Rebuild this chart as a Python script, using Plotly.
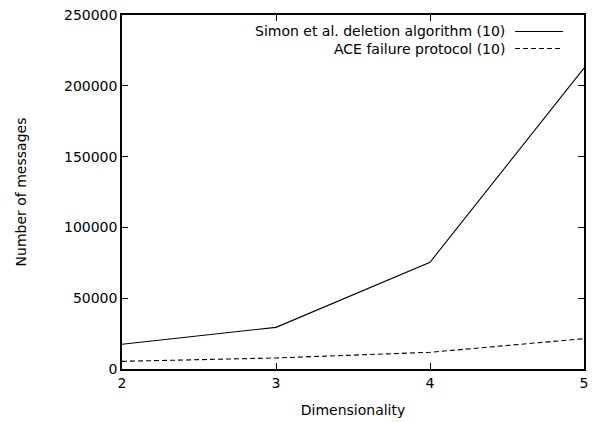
import plotly.graph_objects as go

dims = [2, 3, 4, 5]
simon = [17500, 29400, 75400, 212500]
ace = [5400, 7800, 11800, 21400]
names = ["Simon et al. deletion algorithm (10)", "ACE failure protocol (10)"]
yticks = [0, 50000, 100000, 150000, 200000, 250000]

W, H = 597, 422
ml, mr, mt, mb = 122, 13, 15, 53
pw, ph = W - ml - mr, H - mt - mb

fig = go.Figure()
fig.add_trace(go.Scatter(x=dims, y=simon, mode="lines", name=names[0],
                         line=dict(color="black", width=1.1)))
fig.add_trace(go.Scatter(x=dims, y=ace, mode="lines", name=names[1],
                         line=dict(color="black", width=1.1, dash="5px,3px")))

font = dict(family="DejaVu Sans, Liberation Sans, sans-serif", size=14, color="black")

# legend (gnuplot style: text right-aligned, sample on right)
rows = [(names[0], "solid", 31.5), (names[1], "5px,3px", 48.5)]
for txt, dash, ypx in rows:
    yp = 1 - (ypx - mt) / ph
    fig.add_annotation(xref="paper", yref="paper", x=(506 - ml) / pw, y=yp,
                       text=txt, showarrow=False, xanchor="right", yanchor="middle",
                       font=font, borderpad=0)
    fig.add_shape(type="line", xref="paper", yref="paper",
                  x0=(515 - ml) / pw, x1=(563 - ml) / pw, y0=yp, y1=yp,
                  line=dict(color="black", width=1.1, dash=dash))

fig.update_layout(
    width=W, height=H,
    margin=dict(l=ml, r=mr, t=mt, b=mb, autoexpand=False),
    plot_bgcolor="white", paper_bgcolor="white",
    showlegend=False, font=font,
    xaxis=dict(range=[2, 5], tickvals=dims, ticks="inside", ticklen=6,
               tickcolor="black", showline=True, linecolor="black", linewidth=1.5,
               mirror="ticks", showgrid=False, zeroline=False, automargin=False,
               title=dict(text="Dimensionality", font=font, standoff=16),
               tickfont=font),
    yaxis=dict(range=[0, 250000], tickvals=yticks, ticks="inside", ticklen=6,
               tickcolor="black", showline=True, linecolor="black", linewidth=1.5,
               mirror="ticks", showgrid=False, zeroline=False, automargin=False,
               title=dict(text="Number of messages", font=font, standoff=34),
               tickfont=font, tickformat="d"),
)

fig.write_html("out.html")
